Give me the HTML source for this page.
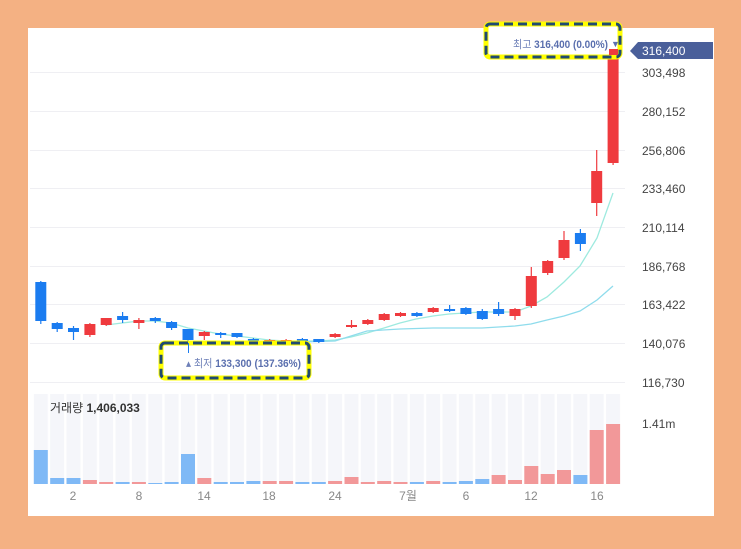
<!DOCTYPE html>
<html><head><meta charset="utf-8"><style>
html,body{margin:0;padding:0;background:#f4b183;}
body{width:741px;height:544px;overflow:hidden;position:relative;font-family:"Liberation Sans","Noto Sans CJK KR",sans-serif;}
</style></head><body>
<svg width="741" height="544" viewBox="0 0 741 544" xmlns="http://www.w3.org/2000/svg" font-family="Liberation Sans, Noto Sans CJK KR, sans-serif">
<defs>
<pattern id="vbg" patternUnits="userSpaceOnUse" x="33.8" y="394" width="16.35" height="90">
<rect x="0" y="0" width="14" height="90" fill="#f5f6fa"/>
</pattern>
</defs>
<rect x="0" y="0" width="741" height="544" rx="14" fill="#f4b183"/>
<rect x="28" y="28" width="686" height="488" fill="#ffffff"/>
<g stroke="#efeff3" stroke-width="1">
<line x1="30" x2="625" y1="72.5" y2="72.5"/><line x1="30" x2="625" y1="111.5" y2="111.5"/>
<line x1="30" x2="625" y1="150.5" y2="150.5"/><line x1="30" x2="625" y1="188.5" y2="188.5"/>
<line x1="30" x2="625" y1="227.5" y2="227.5"/><line x1="30" x2="625" y1="266.5" y2="266.5"/>
<line x1="30" x2="625" y1="304.5" y2="304.5"/><line x1="30" x2="625" y1="343.5" y2="343.5"/>
<line x1="30" x2="625" y1="382.5" y2="382.5"/>
</g>
<g font-size="12" fill="#444">
<text x="642" y="77">303,498</text><text x="642" y="116">280,152</text><text x="642" y="155">256,806</text>
<text x="642" y="193">233,460</text><text x="642" y="232">210,114</text><text x="642" y="271">186,768</text>
<text x="642" y="309">163,422</text><text x="642" y="348">140,076</text><text x="642" y="387">116,730</text>
<text x="642" y="428">1.41m</text>
</g>
<polygon points="630,51 638,42 713,42 713,59 638,59" fill="#4a5f9a"/>
<text x="642" y="55" font-size="12" fill="#fff">316,400</text>
<rect x="33.8" y="394" width="588" height="90" fill="url(#vbg)"/>
<g>
<rect x="33.8" y="450" width="14" height="34" fill="#7fb9f6"/>
<rect x="50.2" y="478" width="14" height="6" fill="#7fb9f6"/>
<rect x="66.5" y="478" width="14" height="6" fill="#7fb9f6"/>
<rect x="82.9" y="480" width="14" height="4" fill="#f29899"/>
<rect x="99.2" y="482" width="14" height="2" fill="#f29899"/>
<rect x="115.6" y="482" width="14" height="2" fill="#7fb9f6"/>
<rect x="131.9" y="482" width="14" height="2" fill="#f29899"/>
<rect x="148.3" y="483" width="14" height="1" fill="#7fb9f6"/>
<rect x="164.6" y="482" width="14" height="2" fill="#7fb9f6"/>
<rect x="181.0" y="454" width="14" height="30" fill="#7fb9f6"/>
<rect x="197.3" y="478" width="14" height="6" fill="#f29899"/>
<rect x="213.7" y="482" width="14" height="2" fill="#7fb9f6"/>
<rect x="230.0" y="482" width="14" height="2" fill="#7fb9f6"/>
<rect x="246.4" y="481" width="14" height="3" fill="#7fb9f6"/>
<rect x="262.7" y="481" width="14" height="3" fill="#f29899"/>
<rect x="279.1" y="481" width="14" height="3" fill="#f29899"/>
<rect x="295.4" y="482" width="14" height="2" fill="#7fb9f6"/>
<rect x="311.8" y="482" width="14" height="2" fill="#7fb9f6"/>
<rect x="328.1" y="481" width="14" height="3" fill="#f29899"/>
<rect x="344.5" y="477" width="14" height="7" fill="#f29899"/>
<rect x="360.8" y="482" width="14" height="2" fill="#f29899"/>
<rect x="377.2" y="481" width="14" height="3" fill="#f29899"/>
<rect x="393.5" y="482" width="14" height="2" fill="#f29899"/>
<rect x="409.9" y="482" width="14" height="2" fill="#7fb9f6"/>
<rect x="426.2" y="481" width="14" height="3" fill="#f29899"/>
<rect x="442.6" y="482" width="14" height="2" fill="#7fb9f6"/>
<rect x="458.9" y="481" width="14" height="3" fill="#7fb9f6"/>
<rect x="475.3" y="479" width="14" height="5" fill="#7fb9f6"/>
<rect x="491.6" y="475" width="14" height="9" fill="#f29899"/>
<rect x="508.0" y="480" width="14" height="4" fill="#f29899"/>
<rect x="524.3" y="466" width="14" height="18" fill="#f29899"/>
<rect x="540.7" y="474" width="14" height="10" fill="#f29899"/>
<rect x="557.0" y="470" width="14" height="14" fill="#f29899"/>
<rect x="573.4" y="475" width="14" height="9" fill="#7fb9f6"/>
<rect x="589.7" y="430" width="14" height="54" fill="#f29899"/>
<rect x="606.1" y="424" width="14" height="60" fill="#f29899"/>
</g>
<polyline fill="none" stroke="#9eeadf" stroke-width="1.3" points="106,325 122,323 139,321 155,321 171,323 188,328 204,331 220,334 237,336 253,338 269,340 286,341 302,341 318,341 335,340 351,337 367,333 384,328 400,323 416,319 433,316 449,314 465,313 482,312 498,312 515,312 531,306 547,297 564,282 580,266 597,238 613,193"/>
<polyline fill="none" stroke="#8fdcec" stroke-width="1.3" points="300,342 335,341 367,331 400,329 433,328 465,328 482,328 515,326 531,324 547,320 564,316 580,311 597,300 613,286"/>
<g stroke-width="1.2">
<line x1="40.8" x2="40.8" y1="281" y2="324" stroke="#1b7cf0"/><rect x="35.3" y="282" width="11" height="39" fill="#1b7cf0"/>
<line x1="57.2" x2="57.2" y1="322" y2="332" stroke="#1b7cf0"/><rect x="51.7" y="323" width="11" height="6" fill="#1b7cf0"/>
<line x1="73.5" x2="73.5" y1="326" y2="340" stroke="#1b7cf0"/><rect x="68" y="328" width="11" height="4" fill="#1b7cf0"/>
<line x1="89.9" x2="89.9" y1="323" y2="337" stroke="#ef3a3e"/><rect x="84.4" y="324" width="11" height="11" fill="#ef3a3e"/>
<line x1="106.2" x2="106.2" y1="318" y2="326" stroke="#ef3a3e"/><rect x="100.7" y="318" width="11" height="7" fill="#ef3a3e"/>
<line x1="122.6" x2="122.6" y1="312" y2="323" stroke="#1b7cf0"/><rect x="117.1" y="316" width="11" height="4" fill="#1b7cf0"/>
<line x1="138.9" x2="138.9" y1="318" y2="329" stroke="#ef3a3e"/><rect x="133.4" y="320" width="11" height="3" fill="#ef3a3e"/>
<line x1="155.3" x2="155.3" y1="317" y2="323" stroke="#1b7cf0"/><rect x="149.8" y="318" width="11" height="3" fill="#1b7cf0"/>
<line x1="171.6" x2="171.6" y1="321" y2="330" stroke="#1b7cf0"/><rect x="166.1" y="322" width="11" height="6" fill="#1b7cf0"/>
<line x1="188" x2="188" y1="329" y2="351" stroke="#1b7cf0"/><rect x="182.5" y="329" width="11" height="11" fill="#1b7cf0"/>
<line x1="204.3" x2="204.3" y1="331" y2="340" stroke="#ef3a3e"/><rect x="198.8" y="332" width="11" height="4" fill="#ef3a3e"/>
<line x1="220.7" x2="220.7" y1="332" y2="338" stroke="#1b7cf0"/><rect x="215.2" y="333" width="11" height="2" fill="#1b7cf0"/>
<line x1="237" x2="237" y1="333" y2="338" stroke="#1b7cf0"/><rect x="231.5" y="333" width="11" height="4" fill="#1b7cf0"/>
<line x1="253.4" x2="253.4" y1="338" y2="342" stroke="#1b7cf0"/><rect x="247.9" y="339" width="11" height="2" fill="#1b7cf0"/>
<line x1="269.7" x2="269.7" y1="339" y2="342" stroke="#ef3a3e"/><rect x="264.2" y="340" width="11" height="2" fill="#ef3a3e"/>
<line x1="286.1" x2="286.1" y1="339" y2="342" stroke="#ef3a3e"/><rect x="280.6" y="340" width="11" height="2" fill="#ef3a3e"/>
<line x1="302.4" x2="302.4" y1="338" y2="342" stroke="#1b7cf0"/><rect x="296.9" y="339" width="11" height="2" fill="#1b7cf0"/>
<line x1="318.8" x2="318.8" y1="339" y2="343" stroke="#1b7cf0"/><rect x="313.3" y="339" width="11" height="3" fill="#1b7cf0"/>
<line x1="335.1" x2="335.1" y1="333" y2="338" stroke="#ef3a3e"/><rect x="329.6" y="334" width="11" height="3" fill="#ef3a3e"/>
<line x1="351.5" x2="351.5" y1="320" y2="328" stroke="#ef3a3e"/><rect x="346" y="325" width="11" height="2" fill="#ef3a3e"/>
<line x1="367.8" x2="367.8" y1="319" y2="325" stroke="#ef3a3e"/><rect x="362.3" y="320" width="11" height="4" fill="#ef3a3e"/>
<line x1="384.2" x2="384.2" y1="313" y2="321" stroke="#ef3a3e"/><rect x="378.7" y="314" width="11" height="6" fill="#ef3a3e"/>
<line x1="400.5" x2="400.5" y1="312" y2="317" stroke="#ef3a3e"/><rect x="395" y="313" width="11" height="3" fill="#ef3a3e"/>
<line x1="416.9" x2="416.9" y1="312" y2="317" stroke="#1b7cf0"/><rect x="411.4" y="313" width="11" height="3" fill="#1b7cf0"/>
<line x1="433.2" x2="433.2" y1="307" y2="313" stroke="#ef3a3e"/><rect x="427.7" y="308" width="11" height="4" fill="#ef3a3e"/>
<line x1="449.6" x2="449.6" y1="305" y2="312" stroke="#1b7cf0"/><rect x="444.1" y="309" width="11" height="2" fill="#1b7cf0"/>
<line x1="465.9" x2="465.9" y1="307" y2="315" stroke="#1b7cf0"/><rect x="460.4" y="308" width="11" height="6" fill="#1b7cf0"/>
<line x1="482.3" x2="482.3" y1="309" y2="320" stroke="#1b7cf0"/><rect x="476.8" y="311" width="11" height="8" fill="#1b7cf0"/>
<line x1="498.6" x2="498.6" y1="302" y2="316" stroke="#1b7cf0"/><rect x="493.1" y="309" width="11" height="5" fill="#1b7cf0"/>
<line x1="515" x2="515" y1="308" y2="320" stroke="#ef3a3e"/><rect x="509.5" y="309" width="11" height="7" fill="#ef3a3e"/>
<line x1="531.3" x2="531.3" y1="267" y2="308" stroke="#ef3a3e"/><rect x="525.8" y="276" width="11" height="30" fill="#ef3a3e"/>
<line x1="547.7" x2="547.7" y1="260" y2="275" stroke="#ef3a3e"/><rect x="542.2" y="261" width="11" height="12" fill="#ef3a3e"/>
<line x1="564" x2="564" y1="231" y2="260" stroke="#ef3a3e"/><rect x="558.5" y="240" width="11" height="18" fill="#ef3a3e"/>
<line x1="580.4" x2="580.4" y1="229" y2="251" stroke="#1b7cf0"/><rect x="574.9" y="233" width="11" height="11" fill="#1b7cf0"/>
<line x1="596.7" x2="596.7" y1="150" y2="216" stroke="#ef3a3e"/><rect x="591.2" y="171" width="11" height="32" fill="#ef3a3e"/>
<line x1="613.1" x2="613.1" y1="50" y2="165" stroke="#ef3a3e"/><rect x="607.6" y="57" width="11" height="106" fill="#ef3a3e"/>
</g>
<g font-size="12" fill="#888" text-anchor="middle">
<text x="73" y="500">2</text><text x="139" y="500">8</text><text x="204" y="500">14</text>
<text x="269" y="500">18</text><text x="335" y="500">24</text><text x="408" y="500">7월</text>
<text x="466" y="500">6</text><text x="531" y="500">12</text><text x="597" y="500">16</text>
</g>
<text x="50" y="412" font-size="12" fill="#333">거래량 <tspan font-weight="bold">1,406,033</tspan></text>
<rect x="486" y="24" width="134" height="33" fill="#fff" stroke="#ffff00" stroke-width="5" rx="4"/>
<rect x="486" y="24" width="134" height="33" fill="none" stroke="#1f4a72" stroke-width="3" stroke-dasharray="9,5" rx="4"/>
<rect x="609" y="49" width="9" height="6" fill="#ef3a3e"/>
<text x="513" y="48" font-size="11" fill="#6e80b8" textLength="95" lengthAdjust="spacingAndGlyphs">최고 <tspan font-weight="bold" fill="#5a6fae">316,400 (0.00%)</tspan></text>
<text x="611" y="47" font-size="9" fill="#5a6fae">▼</text>
<rect x="161" y="343" width="148" height="35" fill="#fff" stroke="#ffff00" stroke-width="5" rx="4"/>
<rect x="161" y="343" width="148" height="35" fill="none" stroke="#1f4a72" stroke-width="3" stroke-dasharray="9,5" rx="4"/>
<text x="186" y="367" font-size="11" fill="#6e80b8" textLength="115" lengthAdjust="spacingAndGlyphs">▴ 최저 <tspan font-weight="bold" fill="#5a6fae">133,300 (137.36%)</tspan></text>
<line x1="188.5" y1="343" x2="188.5" y2="353" stroke="#1b7cf0" stroke-width="1"/>
</svg>
</body></html>
